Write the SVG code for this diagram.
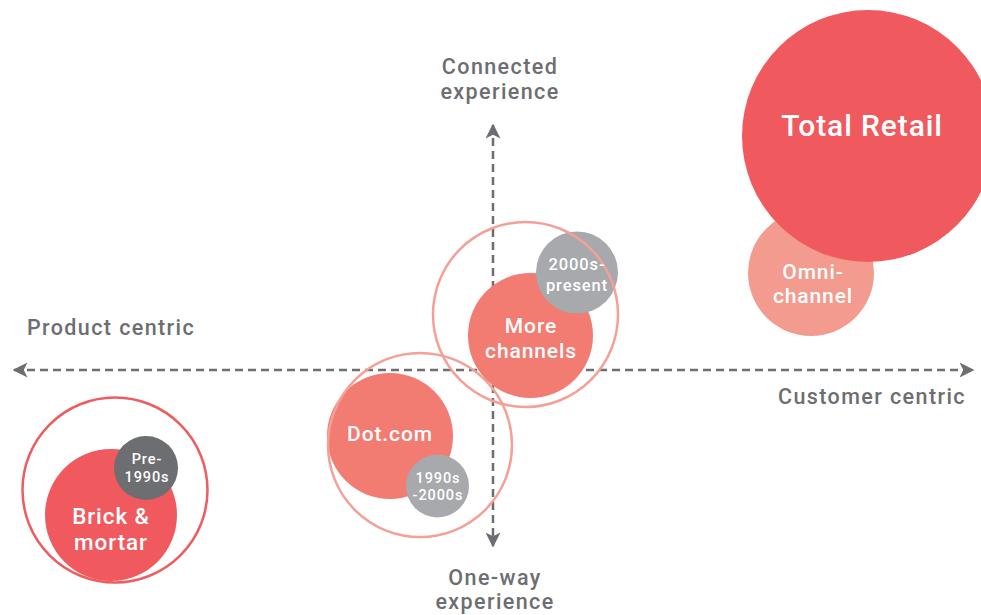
<svg xmlns="http://www.w3.org/2000/svg" width="981" height="615" viewBox="0 0 981 615">
<defs>
<style>
.ax{stroke:#6d6e71;stroke-width:2.5;stroke-dasharray:8 5;fill:none}
.lbl{font-family:Roboto,"Liberation Sans",sans-serif;fill:#6d6e71;font-size:21.5px;text-anchor:middle;letter-spacing:1.4px;font-weight:500}
.w{font-family:Roboto,"Liberation Sans",sans-serif;fill:#fff;text-anchor:middle;letter-spacing:0.9px;font-weight:500}
.ring{fill:none;stroke-width:2.5}
</style>
<marker id="ah" viewBox="0 0 10 10" refX="9" refY="5" markerWidth="6" markerHeight="6" orient="auto-start-reverse" markerUnits="strokeWidth">
<path d="M0,0 L10,5 L0,10 L2.5,5 Z" fill="#6d6e71"/>
</marker>
</defs>
<rect width="981" height="615" fill="#fff"/>
<g id="axes">
<line class="ax" x1="14" y1="370" x2="973" y2="370" marker-start="url(#ah)" marker-end="url(#ah)"/>
<line class="ax" x1="493" y1="125" x2="493" y2="546" marker-start="url(#ah)" marker-end="url(#ah)"/>
</g>
<g id="labels">
<text class="lbl" x="500" y="74">Connected</text>
<text class="lbl" x="500" y="99">experience</text>
<text class="lbl" x="495" y="585">One-way</text>
<text class="lbl" x="495" y="609">experience</text>
<text class="lbl" x="111" y="335">Product centric</text>
<text class="lbl" x="872" y="404">Customer centric</text>
</g>
<g id="brick">
<circle cx="111" cy="515" r="66" fill="#f05a5e"/>
<circle cx="146" cy="468" r="32" fill="#6d6e71"/>
<circle class="ring" cx="115" cy="490" r="92.5" stroke="#ef5b5e"/>
<text class="w" x="147" y="464" font-size="14.5">Pre-</text>
<text class="w" x="147" y="482" font-size="14.5">1990s</text>
<text class="w" x="111" y="524" font-size="22.5">Brick &amp;</text>
<text class="w" x="111" y="550" font-size="22.5">mortar</text>
</g>
<g id="dotcom">
<circle cx="390" cy="436" r="63" fill="#f27b72"/>
<circle cx="437.5" cy="486" r="31.5" fill="#a7a9ac"/>
<circle class="ring" cx="420" cy="445" r="92" stroke="#f4a097"/>
<text class="w" x="390" y="441" font-size="21">Dot.com</text>
<text class="w" x="438" y="483" font-size="14.5">1990s</text>
<text class="w" x="438" y="500" font-size="14.5">-2000s</text>
</g>
<g id="morechannels">
<circle cx="530.5" cy="335.5" r="62.5" fill="#f27b72"/>
<circle cx="577" cy="272.5" r="41" fill="#a7a9ac"/>
<circle class="ring" cx="525.5" cy="314.5" r="92.5" stroke="#f4a097"/>
<text class="w" x="577" y="270" font-size="16.5">2000s-</text>
<text class="w" x="577" y="291" font-size="16.5">present</text>
<text class="w" x="531" y="333" font-size="21">More</text>
<text class="w" x="531" y="358" font-size="21">channels</text>
</g>
<g id="omni">
<circle cx="811" cy="273" r="63" fill="#f49b8f"/>
<text class="w" x="813" y="279" font-size="21">Omni-</text>
<text class="w" x="813" y="303" font-size="21">channel</text>
</g>
<g id="total">
<circle cx="868" cy="136" r="126" fill="#f05a5e"/>
<text class="w" x="862" y="136" font-size="30">Total Retail</text>
</g>
</svg>
